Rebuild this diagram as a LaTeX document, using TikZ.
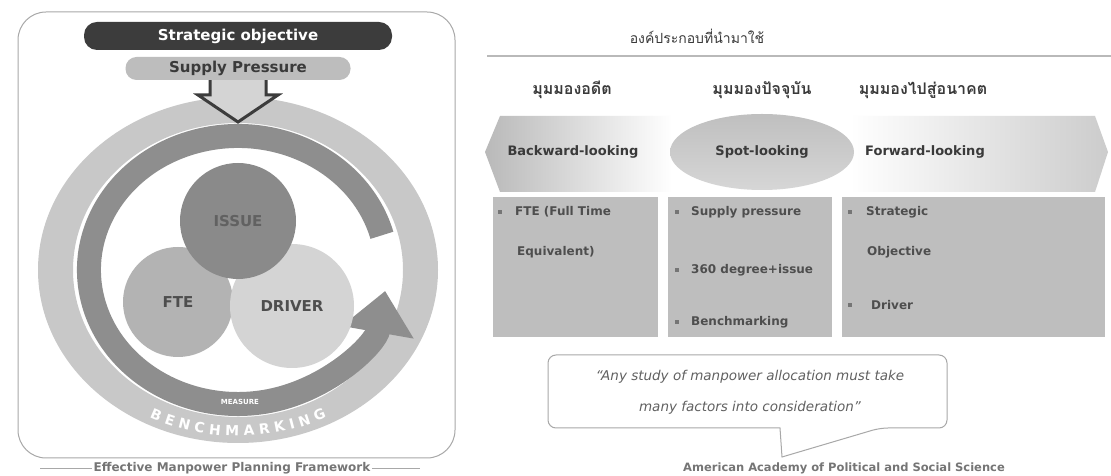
\documentclass[tikz,border=0pt]{standalone}
\usepackage{fontspec}
\setmainfont{DejaVu Sans}
\newfontfamily\thaifont[Script=Thai]{Loma}
\usetikzlibrary{shapes,arrows.meta,positioning,decorations.text}
\definecolor{darkbar}{HTML}{3C3C3C}
\definecolor{midbar}{HTML}{BDBDBD}
\definecolor{ringlight}{HTML}{C8C8C8}
\definecolor{ringdark}{HTML}{8E8E8E}
\definecolor{issuegray}{HTML}{8A8A8A}
\definecolor{ftegray}{HTML}{B3B3B3}
\definecolor{drivergray}{HTML}{D4D4D4}
\definecolor{boxgray}{HTML}{BEBEBE}
\definecolor{inkgray}{HTML}{3A3A3A}
\definecolor{framegray}{HTML}{A8A8A8}

\begin{document}
\begin{tikzpicture}[
      x=1pt, y=1pt,
      topbar/.style={rectangle, rounded corners=13pt, minimum width=308pt, minimum height=28pt, fill=darkbar, text=white, font=\bfseries\fontsize{15}{17}\selectfont},
      subbar/.style={rectangle, rounded corners=11pt, minimum width=225pt, minimum height=23pt, inner sep=0pt, fill=midbar, text=inkgray, font=\bfseries\fontsize{15}{17}\selectfont},
      venn/.style={circle, inner sep=0pt, text=inkgray!90, font=\bfseries\fontsize{15}{17}\selectfont},
      header/.style={font=\thaifont\bfseries\fontsize{16}{18}\selectfont, text=inkgray},
      bandtext/.style={font=\bfseries\fontsize{13}{15}\selectfont, text=inkgray},
      colbox/.style={rectangle, fill=boxgray, anchor=north west, inner sep=0pt, minimum height=140pt},
      item/.style={anchor=west, inner sep=0pt, font=\bfseries\fontsize{12}{14}\selectfont, text=inkgray!90},
      bulletmark/.style={rectangle, fill=inkgray!70, minimum size=4pt, inner sep=0pt},
      note/.style={font=\bfseries\fontsize{12}{14}\selectfont, text=inkgray!70}
    ]
    \useasboundingbox[fill=white] (0,0) rectangle (1111,476);
    % Left panel
    \draw[framegray, line width=1pt, rounded corners=28pt] (18,18) rectangle (455,464);
    \draw[framegray] (40,8) -- (420,8);
    \node[note, fill=white, inner sep=2pt] (caption) at (232,8) {Effective Manpower Planning Framework};
    \node[topbar] (strategic) at (238,440) {Strategic objective};
    \node[subbar] (supply) at (238,407.5) {Supply Pressure};
    % Rings
    \fill[ringlight, even odd rule] (238,206) ellipse [x radius=200, y radius=173]
      (238,206) ellipse [x radius=165, y radius=147];
    \draw[ringdark, line width=24pt, -{Triangle[length=42pt, width=70pt]}]
      (381.9,240.7) arc [start angle=15, end angle=351, x radius=149, y radius=134];
    \path[decorate, decoration={text along path, text align=center, text color=white,
      text={|\bfseries\fontsize{14}{16}\selectfont|B E N C H M A R K I N G}}]
      (238,206) ++(234:191 and 166) arc [start angle=234, end angle=306, x radius=191, y radius=166];
    \node[font=\bfseries\fontsize{7}{8}\selectfont, text=white] (measure) at (240,74) {MEASURE};
    % Push arrow
    \fill[drivergray] (supply.south -| 210,0) -- (210,381) -- (198,381) -- (238,354)
      -- (278,381) -- (266,381) -- (supply.south -| 266,0) -- cycle;
    \draw[darkbar, line width=3pt] (supply.south -| 210,0) -- (210,381) -- (198,381) -- (238,354)
      -- (278,381) -- (266,381) -- (supply.south -| 266,0);
    % Venn
    \node[venn, fill=ftegray, minimum size=110pt] (fte) at (178,174) {FTE};
    \node[venn, fill=drivergray, minimum size=124pt] (driver) at (292,170) {DRIVER};
    \node[venn, fill=issuegray, minimum size=116pt, text=inkgray!80] (issue) at (238,255) {ISSUE};
    % Right panel
    \node[font=\thaifont\fontsize{14}{16}\selectfont, text=inkgray] (title) at (697,440) {องค์ประกอบที่นำมาใช้};
    \draw[framegray!80, line width=1.5pt] (487,420) -- (1111,420);
    \node[header] (pasthead) at (572,386) {มุมมองอดีต};
    \node[header] (nowhead) at (762,386) {มุมมองปัจจุบัน};
    \node[header] (futurehead) at (923,386) {มุมมองไปสู่อนาคต};
    \path[left color=gray!55, right color=white] (485,324) -- (500,360) -- (672,360) -- (672,284) -- (500,284) -- cycle;
    \path[left color=white, right color=gray!40] (850,360) -- (1095,360) -- (1108,324) -- (1095,284) -- (850,284) -- cycle;
    \node[ellipse, minimum width=184pt, minimum height=76pt, top color=gray!50, bottom color=gray!32, bandtext] (spot) at (762,324) {Spot-looking};
    \node[bandtext] (backward) at (573,324) {Backward-looking};
    \node[bandtext] (forward) at (925,324) {Forward-looking};
    % Columns
    \node[colbox, minimum width=165pt] (pastbox) at (493,279) {};
    \node[colbox, minimum width=164pt] (nowbox) at (668,279) {};
    \node[colbox, minimum width=263pt] (futurebox) at (842,279) {};
    \node[bulletmark] at (500,264) {};
    \node[item] (fteitem) at (515,264) {FTE (Full Time};
    \node[item] at (517,224) {Equivalent)};
    \node[bulletmark] at (677,264) {};
    \node[item] (supplyitem) at (691,264) {Supply pressure};
    \node[bulletmark] at (677,206) {};
    \node[item] (degreeitem) at (691,206) {360 degree+issue};
    \node[bulletmark] at (677,154) {};
    \node[item] (benchitem) at (691,154) {Benchmarking};
    \node[bulletmark] at (850,264) {};
    \node[item] (strategicitem) at (866,264) {Strategic};
    \node[item] at (867,224) {Objective};
    \node[bulletmark] at (850,171) {};
    \node[item] (driveritem) at (871,171) {Driver};
    % Quote
    \draw[framegray, line width=1pt, fill=white, rounded corners=8pt] (780,48) -- (548,48) -- (548,121)
      -- (947,121) -- (947,48) -- (880,48) [sharp corners] -- (782,19) -- cycle;
    \node[font=\itshape\fontsize{13.5}{16}\selectfont, text=inkgray!80, align=center] (quote) at (750,84)
      {“Any study of manpower allocation must take\\[15pt] many factors into consideration”};
    \node[note, font=\bfseries\fontsize{11.5}{13}\selectfont, anchor=west, inner sep=0pt] (source) at (683,8) {American Academy of Political and Social Science};
  \end{tikzpicture}
\end{document}
